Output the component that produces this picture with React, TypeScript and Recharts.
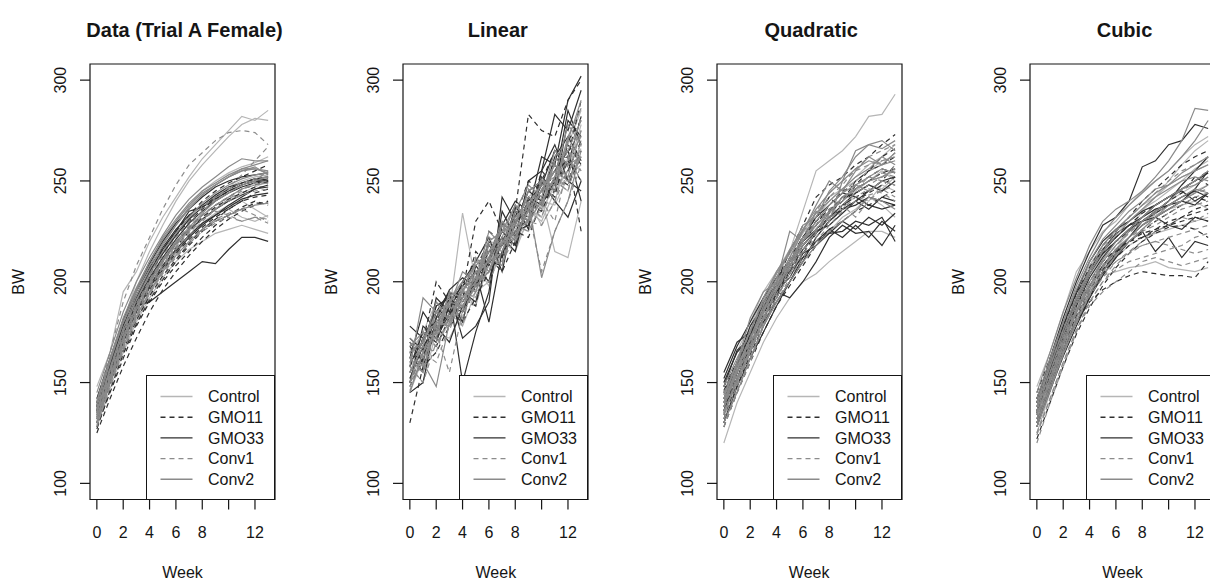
import React from "react";
import { LineChart, Line, XAxis, YAxis, ReferenceArea, Legend } from "recharts";

const weeks = [0, 1, 2, 3, 4, 5, 6, 7, 8, 9, 10, 11, 12, 13];
const weekTicks = [0, 2, 4, 6, 8, 10, 12];
const bwTicks = [100, 150, 200, 250, 300];
const groups = ["Control", "GMO11", "GMO33", "Conv1", "Conv2"];
const titles = ["Data (Trial A Female)", "Linear", "Quadratic", "Cubic"];

// observed body weights (one row per animal, weeks 0..13)
const dataControl = [
  [148, 165, 195, 205, 220, 232, 242, 252, 261, 268, 275, 282, 280, 285],
  [140, 160, 180, 200, 215, 228, 240, 250, 258, 265, 272, 278, 281, 280],
  [135, 155, 172, 188, 200, 210, 218, 225, 231, 236, 240, 244, 247, 250],
  [130, 150, 165, 180, 192, 202, 210, 216, 220, 224, 226, 228, 226, 224],
  [138, 158, 175, 190, 204, 215, 224, 232, 238, 243, 247, 250, 252, 253],
  [132, 152, 170, 185, 197, 207, 216, 223, 229, 234, 236, 232, 230, 233],
  [136, 156, 174, 190, 203, 214, 223, 231, 237, 242, 246, 249, 251, 252],
  [128, 147, 165, 181, 194, 205, 214, 222, 229, 234, 238, 240, 236, 232],
  [142, 162, 180, 196, 209, 220, 230, 238, 245, 250, 254, 257, 259, 262],
];
const dataGmo11 = [
  [128, 145, 162, 178, 190, 200, 208, 215, 222, 228, 233, 237, 240, 238],
  [135, 155, 172, 188, 200, 210, 219, 227, 233, 238, 242, 246, 248, 250],
  [125, 142, 158, 172, 185, 196, 205, 213, 220, 226, 231, 235, 238, 240],
  [138, 158, 176, 191, 204, 214, 223, 230, 236, 241, 245, 248, 250, 249],
  [130, 150, 168, 183, 196, 206, 214, 221, 227, 232, 236, 240, 244, 246],
  [140, 160, 178, 193, 205, 216, 225, 233, 240, 245, 249, 252, 255, 258],
  [132, 150, 166, 181, 193, 203, 211, 219, 226, 231, 236, 240, 242, 243],
  [136, 154, 171, 186, 198, 208, 217, 225, 232, 237, 241, 244, 247, 247],
  [127, 146, 164, 179, 191, 201, 210, 218, 225, 230, 233, 236, 239, 239],
];
const dataGmo33 = [
  [140, 158, 175, 188, 190, 195, 200, 205, 210, 209, 216, 222, 222, 220],
  [138, 160, 180, 195, 207, 217, 226, 233, 238, 243, 247, 249, 251, 252],
  [133, 153, 172, 186, 198, 208, 216, 223, 229, 233, 237, 241, 243, 244],
  [136, 158, 178, 192, 205, 216, 225, 235, 237, 242, 246, 249, 251, 250],
  [130, 150, 170, 185, 197, 207, 215, 222, 228, 233, 238, 242, 246, 248],
  [142, 162, 181, 196, 209, 220, 229, 236, 242, 247, 250, 252, 253, 254],
  [137, 157, 176, 190, 202, 212, 221, 229, 235, 240, 244, 247, 249, 250],
  [134, 155, 174, 189, 201, 211, 219, 226, 231, 236, 240, 243, 246, 247],
  [139, 160, 178, 193, 205, 214, 223, 231, 237, 241, 245, 248, 250, 251],
];
const dataConv1 = [
  [140, 165, 190, 208, 222, 236, 248, 258, 264, 270, 274, 275, 274, 268],
  [132, 152, 170, 185, 198, 208, 217, 225, 231, 235, 233, 230, 232, 229],
  [128, 148, 166, 182, 195, 206, 215, 223, 230, 236, 241, 245, 250, 255],
  [135, 155, 174, 189, 201, 211, 220, 228, 235, 241, 247, 253, 260, 267],
  [130, 150, 168, 183, 195, 205, 213, 220, 226, 231, 234, 236, 233, 230],
  [137, 157, 176, 191, 203, 213, 222, 230, 237, 242, 246, 249, 251, 252],
  [131, 151, 169, 184, 197, 207, 216, 224, 231, 236, 240, 243, 245, 246],
  [134, 154, 172, 187, 199, 209, 218, 226, 233, 238, 242, 246, 249, 250],
  [129, 149, 167, 182, 194, 204, 212, 219, 225, 229, 232, 230, 232, 231],
];
const dataConv2 = [
  [145, 165, 185, 200, 212, 223, 233, 241, 247, 252, 257, 261, 260, 260],
  [138, 160, 180, 196, 210, 221, 230, 238, 244, 248, 252, 256, 256, 254],
  [136, 157, 177, 193, 206, 218, 228, 236, 243, 248, 252, 255, 257, 253],
  [133, 153, 172, 188, 200, 211, 220, 227, 234, 240, 244, 248, 250, 252],
  [130, 150, 168, 183, 195, 205, 213, 220, 226, 230, 233, 236, 238, 239],
  [140, 162, 182, 197, 210, 222, 231, 239, 245, 249, 253, 256, 258, 260],
  [135, 156, 175, 191, 204, 215, 224, 232, 239, 244, 248, 251, 253, 254],
  [132, 152, 171, 186, 199, 210, 219, 226, 233, 238, 242, 246, 248, 249],
  [141, 161, 180, 195, 208, 219, 228, 237, 243, 248, 252, 255, 256, 255],
];

// simulated from the linear model
const linControl = [
  [162, 175, 190, 185, 234, 200, 215, 228, 230, 242, 248, 255, 268, 285],
  [150, 165, 172, 185, 178, 195, 200, 215, 225, 235, 230, 245, 255, 262],
  [168, 160, 178, 190, 195, 188, 210, 222, 218, 230, 240, 238, 252, 258],
  [155, 172, 168, 180, 190, 200, 215, 210, 228, 225, 238, 250, 245, 270],
  [158, 150, 175, 172, 185, 198, 205, 220, 215, 232, 235, 248, 260, 255],
  [145, 162, 180, 178, 192, 196, 212, 218, 230, 228, 242, 215, 212, 240],
  [152, 168, 176, 188, 196, 192, 208, 226, 222, 236, 232, 252, 258, 266],
  [160, 155, 182, 186, 180, 205, 210, 212, 226, 240, 228, 240, 262, 250],
  [166, 174, 170, 192, 200, 208, 198, 220, 235, 228, 250, 245, 255, 278],
];
const linGmo11 = [
  [130, 158, 165, 178, 185, 200, 210, 208, 235, 283, 275, 272, 290, 300],
  [160, 170, 200, 190, 195, 230, 240, 225, 230, 245, 250, 265, 255, 270],
  [150, 165, 175, 185, 180, 192, 205, 215, 225, 222, 240, 245, 260, 250],
  [165, 155, 180, 195, 190, 200, 212, 205, 220, 238, 235, 250, 262, 225],
  [170, 162, 185, 182, 198, 205, 200, 222, 218, 240, 248, 242, 270, 280],
  [155, 168, 172, 188, 192, 188, 218, 212, 230, 228, 245, 258, 250, 265],
  [158, 172, 168, 182, 200, 196, 212, 230, 220, 242, 238, 252, 248, 262],
  [148, 162, 188, 180, 192, 215, 208, 218, 235, 232, 255, 248, 268, 258],
  [168, 158, 178, 192, 186, 202, 225, 220, 232, 250, 245, 260, 262, 290],
];
const linGmo33 = [
  [178, 172, 185, 195, 150, 175, 195, 235, 222, 250, 255, 283, 275, 295],
  [145, 150, 182, 195, 172, 178, 190, 242, 230, 235, 262, 258, 290, 302],
  [162, 185, 175, 190, 198, 205, 180, 215, 228, 245, 240, 262, 272, 260],
  [170, 160, 192, 185, 200, 210, 222, 205, 235, 230, 250, 240, 232, 250],
  [152, 168, 178, 170, 188, 198, 210, 225, 218, 238, 245, 255, 265, 240],
  [158, 175, 170, 188, 185, 202, 215, 218, 225, 228, 252, 245, 280, 272],
  [165, 170, 188, 192, 180, 208, 200, 228, 240, 235, 248, 265, 258, 282],
  [150, 178, 172, 184, 195, 190, 212, 222, 215, 242, 238, 250, 285, 268],
  [172, 166, 182, 196, 202, 198, 220, 212, 238, 226, 255, 268, 250, 245],
];
const linConv1 = [
  [150, 165, 160, 178, 190, 200, 205, 218, 225, 230, 228, 240, 255, 262],
  [165, 158, 175, 155, 185, 195, 212, 210, 222, 235, 205, 225, 240, 258],
  [155, 172, 182, 190, 200, 198, 218, 225, 230, 240, 245, 250, 248, 270],
  [148, 160, 178, 180, 188, 205, 200, 215, 228, 225, 238, 252, 265, 255],
  [160, 168, 165, 185, 195, 192, 210, 222, 220, 232, 240, 230, 258, 282],
  [172, 165, 180, 188, 182, 200, 208, 215, 232, 236, 244, 255, 262, 275],
  [158, 150, 170, 192, 178, 210, 205, 228, 226, 238, 232, 250, 245, 268],
  [162, 175, 168, 182, 196, 202, 215, 208, 235, 230, 252, 240, 262, 250],
  [146, 164, 185, 176, 192, 198, 222, 218, 222, 246, 238, 262, 270, 260],
];
const linConv2 = [
  [158, 192, 185, 190, 200, 208, 215, 225, 238, 232, 250, 245, 270, 290],
  [150, 160, 148, 180, 195, 205, 210, 228, 220, 240, 202, 225, 240, 265],
  [165, 170, 185, 182, 192, 200, 218, 215, 232, 238, 248, 252, 260, 272],
  [145, 165, 175, 190, 188, 198, 205, 220, 225, 230, 246, 255, 250, 262],
  [162, 155, 180, 178, 195, 210, 212, 208, 230, 242, 236, 260, 265, 280],
  [168, 175, 172, 195, 192, 202, 220, 225, 228, 245, 250, 248, 272, 286],
  [155, 168, 190, 180, 198, 195, 212, 230, 222, 236, 245, 258, 252, 275],
  [170, 162, 176, 194, 185, 212, 205, 222, 238, 230, 240, 252, 278, 268],
  [150, 172, 180, 188, 205, 200, 225, 218, 235, 248, 242, 265, 258, 262],
];

// simulated from the quadratic model
const quadControl = [
  [150, 165, 180, 195, 205, 215, 235, 255, 260, 265, 272, 282, 283, 293],
  [120, 140, 155, 170, 182, 192, 200, 204, 210, 215, 220, 225, 225, 222],
  [135, 152, 168, 182, 195, 208, 218, 226, 232, 238, 242, 240, 248, 245],
  [140, 155, 170, 185, 198, 210, 220, 228, 235, 240, 245, 250, 252, 255],
  [130, 148, 162, 178, 190, 200, 210, 218, 225, 232, 236, 242, 238, 232],
  [145, 160, 178, 192, 205, 216, 225, 232, 240, 246, 250, 255, 260, 262],
  [138, 154, 170, 186, 198, 210, 220, 228, 234, 242, 246, 250, 255, 250],
  [132, 150, 166, 180, 194, 206, 216, 224, 230, 236, 244, 248, 246, 252],
  [144, 158, 176, 190, 202, 214, 224, 234, 242, 246, 252, 258, 262, 268],
];
const quadGmo11 = [
  [140, 158, 172, 188, 200, 215, 228, 242, 248, 252, 258, 262, 268, 273],
  [132, 150, 165, 180, 193, 205, 215, 225, 232, 238, 242, 245, 250, 258],
  [148, 160, 175, 190, 198, 208, 220, 230, 236, 240, 250, 255, 258, 262],
  [128, 145, 160, 175, 188, 198, 208, 218, 226, 230, 235, 238, 242, 245],
  [136, 155, 168, 184, 196, 210, 220, 228, 238, 245, 248, 255, 262, 266],
  [142, 156, 170, 186, 200, 212, 222, 230, 235, 242, 244, 248, 245, 250],
  [134, 152, 168, 182, 195, 206, 218, 226, 234, 240, 246, 250, 254, 256],
  [146, 160, 174, 188, 200, 210, 222, 232, 242, 236, 248, 252, 256, 254],
  [130, 148, 164, 178, 192, 204, 214, 224, 230, 236, 240, 244, 248, 252],
];
const quadGmo33 = [
  [155, 170, 175, 185, 195, 192, 200, 210, 222, 228, 224, 225, 218, 228],
  [150, 165, 172, 190, 198, 205, 212, 220, 226, 222, 228, 222, 230, 225],
  [138, 155, 170, 180, 190, 200, 210, 222, 230, 236, 238, 242, 240, 238],
  [145, 160, 178, 188, 195, 208, 218, 225, 228, 234, 240, 245, 250, 252],
  [130, 148, 162, 175, 188, 200, 212, 220, 224, 225, 230, 228, 232, 220],
  [152, 168, 180, 192, 202, 210, 222, 232, 238, 244, 242, 238, 236, 238],
  [148, 166, 172, 186, 196, 202, 214, 218, 224, 230, 226, 232, 228, 234],
  [136, 152, 168, 182, 194, 206, 216, 224, 232, 238, 244, 248, 245, 250],
  [142, 158, 174, 186, 198, 210, 220, 226, 232, 236, 240, 236, 242, 240],
];
const quadConv1 = [
  [135, 152, 168, 182, 196, 208, 220, 230, 238, 244, 250, 255, 258, 264],
  [128, 145, 160, 178, 190, 202, 212, 220, 228, 235, 240, 243, 245, 248],
  [140, 158, 172, 185, 198, 210, 222, 235, 244, 250, 255, 258, 260, 262],
  [132, 148, 165, 180, 192, 204, 215, 225, 233, 238, 232, 240, 246, 242],
  [138, 155, 170, 184, 196, 206, 218, 226, 232, 242, 246, 250, 254, 252],
  [145, 160, 175, 190, 200, 212, 225, 232, 242, 248, 256, 262, 265, 268],
  [130, 146, 162, 178, 192, 204, 214, 222, 230, 238, 244, 248, 252, 256],
  [142, 156, 170, 186, 198, 208, 220, 228, 236, 240, 246, 252, 250, 258],
  [136, 150, 166, 182, 194, 206, 216, 224, 232, 236, 242, 246, 244, 240],
];
const quadConv2 = [
  [142, 160, 182, 195, 200, 225, 220, 235, 230, 250, 265, 268, 270, 265],
  [138, 155, 168, 185, 198, 212, 225, 238, 250, 245, 255, 262, 258, 260],
  [135, 150, 165, 182, 196, 210, 222, 228, 235, 240, 248, 252, 256, 254],
  [148, 162, 175, 192, 205, 215, 228, 232, 245, 252, 262, 268, 266, 270],
  [130, 145, 162, 178, 190, 200, 210, 218, 225, 230, 235, 242, 240, 236],
  [140, 158, 172, 188, 202, 216, 226, 234, 240, 246, 252, 256, 262, 258],
  [144, 160, 176, 190, 204, 214, 226, 236, 244, 250, 256, 260, 258, 264],
  [134, 152, 166, 182, 196, 208, 218, 226, 234, 242, 246, 250, 252, 256],
  [140, 156, 172, 186, 200, 210, 220, 230, 238, 244, 248, 245, 250, 248],
];

// simulated from the cubic model
const cubControl = [
  [148, 165, 185, 205, 215, 225, 230, 238, 245, 250, 255, 262, 268, 272],
  [135, 155, 172, 188, 198, 203, 205, 207, 208, 210, 207, 206, 205, 207],
  [140, 158, 178, 195, 208, 218, 226, 232, 238, 242, 248, 252, 255, 258],
  [130, 150, 168, 182, 195, 205, 213, 220, 226, 232, 236, 240, 245, 248],
  [125, 145, 165, 180, 193, 205, 216, 225, 235, 242, 250, 258, 265, 270],
  [138, 156, 174, 190, 203, 213, 220, 226, 230, 233, 236, 238, 240, 236],
  [142, 160, 180, 196, 208, 218, 225, 230, 236, 240, 245, 250, 256, 260],
  [132, 150, 168, 184, 197, 207, 215, 222, 228, 234, 240, 244, 248, 252],
  [128, 148, 166, 182, 195, 205, 212, 218, 222, 224, 226, 228, 230, 232],
];
const cubGmo11 = [
  [128, 148, 165, 180, 190, 196, 200, 203, 205, 204, 203, 203, 202, 210],
  [135, 152, 170, 186, 198, 208, 215, 220, 222, 225, 228, 230, 232, 230],
  [140, 158, 176, 192, 205, 214, 220, 225, 230, 235, 240, 244, 252, 248],
  [122, 140, 158, 174, 187, 198, 207, 214, 220, 224, 227, 228, 226, 222],
  [145, 162, 180, 194, 207, 218, 225, 232, 240, 246, 252, 258, 262, 265],
  [132, 150, 168, 183, 196, 206, 214, 220, 225, 230, 234, 238, 242, 240],
  [136, 154, 172, 188, 200, 210, 216, 220, 224, 226, 228, 232, 234, 236],
  [130, 148, 166, 182, 194, 204, 212, 218, 222, 226, 230, 232, 236, 238],
  [142, 160, 178, 194, 206, 216, 222, 228, 234, 238, 242, 246, 250, 255],
];
const cubGmo33 = [
  [140, 162, 182, 200, 215, 228, 232, 240, 257, 260, 268, 270, 278, 276],
  [135, 152, 170, 185, 198, 208, 216, 222, 228, 232, 236, 240, 246, 255],
  [130, 148, 166, 180, 192, 203, 212, 220, 225, 215, 222, 212, 220, 218],
  [142, 160, 178, 195, 210, 220, 226, 230, 235, 238, 242, 245, 240, 244],
  [128, 146, 163, 178, 192, 205, 214, 222, 230, 235, 240, 248, 255, 262],
  [138, 156, 175, 190, 204, 215, 222, 228, 232, 236, 238, 242, 245, 242],
  [134, 154, 172, 188, 202, 212, 220, 226, 232, 238, 242, 246, 250, 254],
  [140, 158, 176, 192, 206, 216, 224, 228, 230, 232, 228, 226, 232, 230],
  [136, 155, 174, 190, 204, 214, 220, 226, 230, 234, 238, 240, 238, 244],
];
const cubConv1 = [
  [125, 142, 160, 176, 188, 195, 200, 205, 210, 212, 210, 208, 210, 212],
  [130, 148, 165, 180, 193, 202, 210, 215, 218, 220, 218, 216, 214, 216],
  [135, 153, 172, 188, 200, 210, 218, 224, 230, 234, 238, 240, 244, 246],
  [140, 158, 176, 192, 205, 216, 225, 232, 238, 244, 250, 255, 258, 262],
  [120, 140, 158, 175, 190, 200, 208, 215, 220, 225, 228, 232, 230, 234],
  [138, 155, 172, 186, 198, 207, 214, 220, 225, 228, 232, 236, 238, 240],
  [128, 146, 164, 180, 194, 204, 210, 214, 218, 220, 222, 224, 226, 228],
  [134, 152, 170, 186, 198, 208, 216, 222, 226, 230, 234, 238, 242, 244],
  [124, 142, 160, 176, 190, 200, 206, 210, 212, 214, 216, 218, 222, 224],
];
const cubConv2 = [
  [145, 165, 185, 202, 218, 230, 236, 240, 245, 252, 260, 270, 286, 285],
  [140, 160, 180, 198, 212, 224, 232, 238, 244, 250, 255, 262, 270, 280],
  [132, 150, 168, 185, 198, 210, 218, 225, 230, 235, 240, 246, 250, 255],
  [136, 155, 174, 190, 204, 215, 223, 230, 236, 242, 246, 250, 252, 250],
  [128, 146, 164, 180, 194, 205, 213, 220, 226, 232, 238, 242, 246, 244],
  [142, 162, 180, 196, 210, 221, 228, 235, 240, 246, 248, 252, 255, 258],
  [138, 158, 176, 192, 206, 218, 226, 232, 238, 244, 248, 254, 258, 262],
  [134, 152, 170, 186, 200, 211, 220, 226, 232, 238, 242, 246, 248, 252],
  [130, 148, 166, 182, 196, 207, 216, 222, 228, 232, 236, 240, 244, 248],
];

const panels = [
  [dataControl, dataGmo11, dataGmo33, dataConv1, dataConv2],
  [linControl, linGmo11, linGmo33, linConv1, linConv2],
  [quadControl, quadGmo11, quadGmo33, quadConv1, quadConv2],
  [cubControl, cubGmo11, cubGmo33, cubConv1, cubConv2],
];

const FONT = "'Liberation Sans', Arial, Helvetica, sans-serif";
const INK = "#151515";
const groupStyles = [
  { stroke: "#b6b6b6", dash: undefined },
  { stroke: "#2f2f2f", dash: "5 4" },
  { stroke: "#2f2f2f", dash: undefined },
  { stroke: "#8c8c8c", dash: "5 4" },
  { stroke: "#8a8a8a", dash: undefined },
];

const W = 1210;
const H = 581;
const PANEL_STEP = 313.33;
const PANEL_W = 313;
const Y_AXIS_W = 90;
const X_AXIS_H = 81.5;
const MARGIN = { top: 64, right: 38, bottom: 0, left: 0 };

const toRows = (vals: number[]) => weeks.map((w, i) => ({ week: w, bw: vals[i] }));

const XTick = (props: any) => {
  const { x, y, payload } = props;
  // R drops the "10" label because it would overlap
  if (payload.value === 10) return <g />;
  return (
    <text x={x} y={y} dy={26} textAnchor="middle" fontSize={16} fill={INK} fontFamily={FONT}>
      {payload.value}
    </text>
  );
};

const YTick = (props: any) => {
  const { x, y, payload } = props;
  const bx = x - 12;
  return (
    <text
      x={bx}
      y={y}
      transform={`rotate(-90, ${bx}, ${y})`}
      textAnchor="middle"
      fontSize={16}
      fill={INK}
      fontFamily={FONT}
    >
      {payload.value}
    </text>
  );
};

const RLegend = () => (
  <div
    style={{
      width: 129,
      height: 124.5,
      boxSizing: "border-box",
      border: `1.2px solid ${INK}`,
      background: "#fff",
    }}
  >
    <svg width={127} height={122} style={{ display: "block" }}>
      {groups.map((g, i) => {
        const cy = 20.5 + i * 20.7;
        return (
          <g key={g}>
            <line
              x1={13.5}
              x2={45.5}
              y1={cy}
              y2={cy}
              stroke={groupStyles[i].stroke}
              strokeDasharray={groupStyles[i].dash}
              strokeWidth={1.4}
            />
            <text x={61} y={cy + 5.8} fontSize={16} fill={INK} fontFamily={FONT}>
              {g}
            </text>
          </g>
        );
      })}
    </svg>
  </div>
);

function Panel({ index }: { index: number }) {
  const series = panels[index];
  const lines = series.flatMap((animals, g) =>
    animals.map((vals, a) => (
      <Line
        key={`${g}-${a}`}
        data={toRows(vals)}
        dataKey="bw"
        type="linear"
        stroke={groupStyles[g].stroke}
        strokeDasharray={groupStyles[g].dash}
        strokeWidth={1.2}
        dot={false}
        activeDot={false}
        legendType="none"
        isAnimationActive={false}
      />
    ))
  );
  return (
    <div style={{ position: "absolute", left: index * PANEL_STEP, top: 0 }}>
      <LineChart width={PANEL_W} height={H} margin={MARGIN}>
        <XAxis
          type="number"
          dataKey="week"
          domain={[-0.52, 13.52]}
          ticks={weekTicks}
          allowDataOverflow
          height={X_AXIS_H}
          tickSize={10}
          axisLine={false}
          tickLine={{ stroke: INK, strokeWidth: 1.2 }}
          tick={<XTick />}
          interval={0}
        />
        <YAxis
          type="number"
          domain={[92, 308]}
          ticks={bwTicks}
          allowDataOverflow
          width={Y_AXIS_W}
          tickSize={10}
          axisLine={false}
          tickLine={{ stroke: INK, strokeWidth: 1.2 }}
          tick={<YTick />}
          interval={0}
        />
        {lines}
        <ReferenceArea
          x1={-0.52}
          x2={13.52}
          y1={92}
          y2={308}
          fill="none"
          stroke={INK}
          strokeWidth={1.2}
          ifOverflow="visible"
        />
        <Legend
          layout="vertical"
          align="center"
          verticalAlign="middle"
          content={<RLegend />}
          wrapperStyle={{ left: 146, top: 375, right: "auto", bottom: "auto", width: 129, height: 124.5 }}
        />
      </LineChart>
    </div>
  );
}

export default function App() {
  const boxCenter = (i: number) => i * PANEL_STEP + Y_AXIS_W + (PANEL_W - Y_AXIS_W - MARGIN.right) / 2;
  const midY = MARGIN.top + (H - MARGIN.top - X_AXIS_H) / 2;
  return (
    <div
      style={{
        position: "absolute",
        left: 0,
        top: 0,
        width: W,
        height: H,
        overflow: "hidden",
        background: "#fff",
      }}
    >
      {titles.map((_, i) => (
        <Panel key={i} index={i} />
      ))}
      <svg width={W} height={H} style={{ position: "absolute", left: 0, top: 0, pointerEvents: "none" }}>
        {titles.map((t, i) => {
          const cx = boxCenter(i);
          const lx = i * PANEL_STEP + 24;
          return (
            <g key={t} fontFamily={FONT} fill={INK}>
              <text x={cx + 2} y={37.3} textAnchor="middle" fontSize={20} fontWeight="bold">
                {t}
              </text>
              <text x={cx} y={578} textAnchor="middle" fontSize={16}>
                Week
              </text>
              <text x={lx} y={midY} transform={`rotate(-90, ${lx}, ${midY})`} textAnchor="middle" fontSize={16}>
                BW
              </text>
            </g>
          );
        })}
      </svg>
    </div>
  );
}
